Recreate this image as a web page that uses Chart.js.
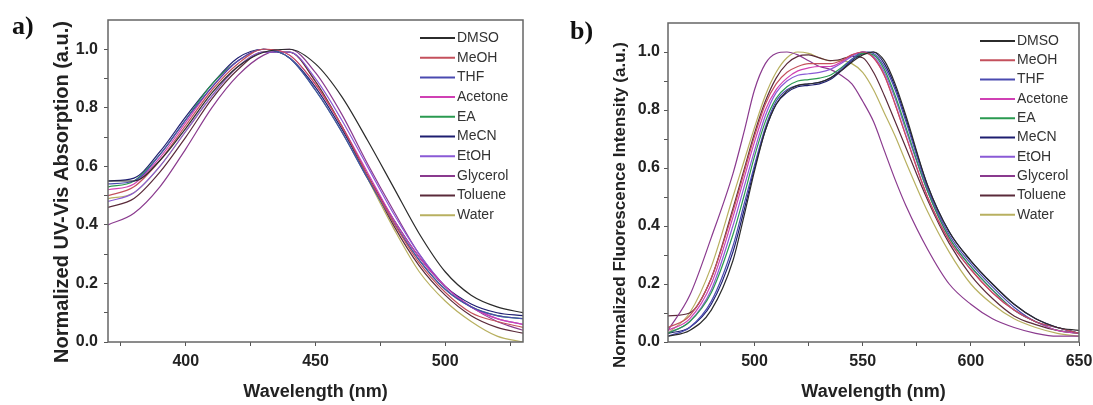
<!DOCTYPE html>
<html lang="en">

<head>
  <meta charset="UTF-8">
  <meta name="viewport" content="width=device-width, initial-scale=1.0">
  <script src="https://cdn.jsdelivr.net/npm/chart.js"></script>
  <title>Solvatochromism</title>
  <style>
    body { margin: 0; background: #fff; }
    #wrap { position: relative; width: 1093px; height: 405px; }
    canvas { position: absolute; top: 0; }
    #chartA { left: 0; }
    #chartB { left: 546px; }
  </style>
</head>

<body>

  <div id="wrap">
    <canvas id="chartA" width="546" height="405"></canvas>
    <canvas id="chartB" width="547" height="405"></canvas>
  </div>

  <script>
    // solvents, same order in both panels
    const solvents = ['DMSO', 'MeOH', 'THF', 'Acetone', 'EA', 'MeCN', 'EtOH', 'Glycerol', 'Toluene', 'Water'];
    const colors = ['#2b2b2b', '#c4505c', '#4a4ab0', '#d040b4', '#2a9a50', '#1e1e70', '#8a5ad6', '#8a3a8e', '#5a2a3a', '#b8b060'];

    // a) absorption, wavelength (nm)
    const wlAbs = [370, 380, 390, 400, 410, 420, 430, 440, 450, 460, 470, 480, 490, 500, 510, 520, 530];
    const absDMSO     = [0.55, 0.55, 0.62, 0.73, 0.85, 0.94, 0.99, 1.00, 0.95, 0.84, 0.69, 0.53, 0.37, 0.24, 0.16, 0.12, 0.10];
    const absMeOH     = [0.50, 0.53, 0.62, 0.74, 0.86, 0.95, 1.00, 0.98, 0.88, 0.74, 0.57, 0.41, 0.27, 0.17, 0.10, 0.07, 0.05];
    const absTHF      = [0.54, 0.55, 0.64, 0.76, 0.87, 0.96, 1.00, 0.97, 0.86, 0.72, 0.56, 0.41, 0.28, 0.18, 0.12, 0.09, 0.08];
    const absAcetone  = [0.52, 0.54, 0.63, 0.75, 0.87, 0.96, 1.00, 0.98, 0.88, 0.74, 0.58, 0.42, 0.29, 0.19, 0.12, 0.08, 0.06];
    const absEA       = [0.53, 0.55, 0.64, 0.76, 0.88, 0.96, 1.00, 0.97, 0.86, 0.72, 0.56, 0.41, 0.28, 0.18, 0.12, 0.09, 0.08];
    const absMeCN     = [0.55, 0.56, 0.65, 0.77, 0.88, 0.97, 1.00, 0.97, 0.87, 0.73, 0.57, 0.42, 0.29, 0.19, 0.13, 0.10, 0.09];
    const absEtOH     = [0.48, 0.51, 0.60, 0.72, 0.84, 0.94, 0.99, 0.99, 0.90, 0.76, 0.60, 0.44, 0.30, 0.19, 0.12, 0.08, 0.06];
    const absGlycerol = [0.40, 0.44, 0.53, 0.66, 0.80, 0.91, 0.98, 1.00, 0.92, 0.78, 0.61, 0.45, 0.30, 0.19, 0.12, 0.07, 0.04];
    const absToluene  = [0.46, 0.49, 0.58, 0.70, 0.83, 0.93, 0.99, 0.99, 0.89, 0.74, 0.57, 0.40, 0.26, 0.16, 0.09, 0.05, 0.03];
    const absWater    = [0.49, 0.51, 0.60, 0.72, 0.84, 0.94, 0.99, 0.99, 0.89, 0.74, 0.56, 0.39, 0.24, 0.14, 0.07, 0.02, 0.00];

    // b) fluorescence, wavelength (nm)
    const wlFl = [460, 470, 480, 490, 495, 500, 505, 510, 515, 520, 525, 530, 535, 540, 545, 550, 555, 560, 565, 570, 580, 590, 600, 610, 620, 630, 640, 650];
    const flDMSO     = [0.02, 0.04, 0.11, 0.28, 0.43, 0.59, 0.73, 0.82, 0.865, 0.885, 0.89, 0.895, 0.91, 0.935, 0.965, 0.99, 1.00, 0.97, 0.89, 0.78, 0.54, 0.38, 0.28, 0.20, 0.13, 0.08, 0.05, 0.04];
    const flMeOH     = [0.05, 0.09, 0.22, 0.45, 0.58, 0.71, 0.82, 0.89, 0.93, 0.95, 0.96, 0.96, 0.96, 0.97, 0.99, 1.00, 0.98, 0.92, 0.82, 0.71, 0.50, 0.35, 0.25, 0.17, 0.11, 0.07, 0.05, 0.03];
    const flTHF      = [0.02, 0.05, 0.14, 0.33, 0.47, 0.61, 0.74, 0.83, 0.87, 0.885, 0.89, 0.895, 0.91, 0.94, 0.975, 1.00, 0.995, 0.95, 0.87, 0.76, 0.53, 0.37, 0.27, 0.19, 0.12, 0.07, 0.05, 0.03];
    const flAcetone  = [0.04, 0.08, 0.20, 0.43, 0.56, 0.69, 0.80, 0.87, 0.91, 0.935, 0.945, 0.95, 0.95, 0.965, 0.99, 1.00, 0.98, 0.92, 0.82, 0.71, 0.50, 0.35, 0.25, 0.17, 0.11, 0.07, 0.04, 0.03];
    const flEA       = [0.03, 0.07, 0.17, 0.37, 0.50, 0.64, 0.76, 0.84, 0.88, 0.90, 0.905, 0.91, 0.92, 0.945, 0.975, 0.995, 0.99, 0.94, 0.85, 0.74, 0.52, 0.36, 0.26, 0.18, 0.11, 0.07, 0.04, 0.03];
    const flMeCN     = [0.03, 0.05, 0.13, 0.31, 0.45, 0.60, 0.73, 0.82, 0.86, 0.88, 0.885, 0.89, 0.905, 0.935, 0.97, 0.995, 1.00, 0.96, 0.88, 0.77, 0.54, 0.38, 0.28, 0.20, 0.13, 0.08, 0.05, 0.03];
    const flEtOH     = [0.03, 0.07, 0.18, 0.40, 0.53, 0.66, 0.78, 0.86, 0.90, 0.92, 0.925, 0.93, 0.94, 0.96, 0.985, 1.00, 0.985, 0.93, 0.84, 0.73, 0.52, 0.36, 0.26, 0.18, 0.11, 0.07, 0.05, 0.03];
    const flGlycerol = [0.04, 0.16, 0.36, 0.58, 0.72, 0.87, 0.96, 0.995, 1.00, 0.99, 0.97, 0.95, 0.94, 0.92, 0.89, 0.83, 0.76, 0.66, 0.56, 0.47, 0.32, 0.20, 0.13, 0.08, 0.05, 0.03, 0.02, 0.02];
    const flToluene  = [0.09, 0.10, 0.22, 0.46, 0.59, 0.72, 0.83, 0.91, 0.96, 0.985, 0.99, 0.98, 0.97, 0.975, 0.985, 0.98, 0.93, 0.85, 0.76, 0.67, 0.49, 0.34, 0.23, 0.15, 0.09, 0.06, 0.04, 0.03];
    const flWater    = [0.03, 0.10, 0.26, 0.50, 0.62, 0.74, 0.85, 0.93, 0.98, 1.00, 0.995, 0.98, 0.97, 0.97, 0.96, 0.93, 0.87, 0.79, 0.71, 0.62, 0.45, 0.31, 0.20, 0.13, 0.08, 0.05, 0.03, 0.02];

    const absSeries = [absDMSO, absMeOH, absTHF, absAcetone, absEA, absMeCN, absEtOH, absGlycerol, absToluene, absWater];
    const flSeries = [flDMSO, flMeOH, flTHF, flAcetone, flEA, flMeCN, flEtOH, flGlycerol, flToluene, flWater];

    // tick positions
    const absTicks = [375, 400, 425, 450, 475, 500, 525];
    const flTicks = [475, 500, 525, 550, 575, 600, 625, 650];
    const yTicks = [0, 0.1, 0.2, 0.3, 0.4, 0.5, 0.6, 0.7, 0.8, 0.9, 1.0];

    const sans = '"Liberation Sans", Arial, sans-serif';

    function makeSets(xs, series) {
      return solvents.map((name, i) => ({
        label: name,
        data: xs.map((x, j) => ({ x: x, y: series[i][j] })),
        borderColor: colors[i],
        backgroundColor: colors[i],
        borderWidth: 1.2,
        pointRadius: 0,
        fill: false,
        cubicInterpolationMode: 'monotone'
      }));
    }

    // box around the plot, y title, legend, panel letter
    const decor = {
      id: 'decor',
      afterDraw(chart, args, opts) {
        const ctx = chart.ctx;
        const a = chart.chartArea;
        ctx.save();
        ctx.strokeStyle = '#666';
        ctx.lineWidth = 1.5;
        ctx.strokeRect(a.left, a.top, a.right - a.left, a.bottom - a.top);

        // y title (placed by hand, it is not centred on the axis in the original)
        ctx.save();
        ctx.translate(opts.titleX, opts.titleY);
        ctx.rotate(-Math.PI / 2);
        ctx.font = 'bold ' + opts.titleSize + 'px ' + sans;
        ctx.fillStyle = '#222';
        ctx.textAlign = 'center';
        ctx.textBaseline = 'middle';
        ctx.fillText(opts.title, 0, 0);
        ctx.restore();

        ctx.font = '14px ' + sans;
        ctx.textBaseline = 'middle';
        ctx.textAlign = 'left';
        chart.data.datasets.forEach((ds, i) => {
          const y = opts.legY + i * opts.legStep;
          ctx.strokeStyle = ds.borderColor;
          ctx.lineWidth = 2;
          ctx.beginPath();
          ctx.moveTo(opts.legX, y);
          ctx.lineTo(opts.legX + 35, y);
          ctx.stroke();
          ctx.fillStyle = '#333';
          ctx.fillText(ds.label, opts.legX + 37, y);
        });

        ctx.font = 'bold 26px "Liberation Serif", "Times New Roman", serif';
        ctx.fillStyle = '#111';
        ctx.textBaseline = 'alphabetic';
        ctx.fillText(opts.letter, opts.letterX, opts.letterY);
        ctx.restore();
      }
    };

    function drawChart(canvasId, xs, series, xMin, xMax, xTicks, yTitle, o) {
      return new Chart(document.getElementById(canvasId), {
        type: 'line',
        data: { datasets: makeSets(xs, series) },
        plugins: [decor],
        options: {
          responsive: false,
          animation: false,
          devicePixelRatio: 1,
          layout: { padding: { top: o.top, right: o.right, left: 0, bottom: 0 } },
          plugins: {
            legend: { display: false },
            tooltip: { enabled: false },
            decor: {
              legX: o.legX, legY: o.legY, legStep: o.legStep,
              letter: o.letter, letterX: o.letterX, letterY: o.letterY,
              title: yTitle, titleX: o.titleX, titleY: o.titleY, titleSize: o.titleSize
            }
          },
          scales: {
            x: {
              type: 'linear',
              min: xMin,
              max: xMax,
              afterBuildTicks: (s) => { s.ticks = xTicks.map(v => ({ value: v })); },
              afterFit: (s) => { s.height = 63; s.paddingLeft = 0; s.paddingRight = 0; },
              border: { display: false },
              grid: { drawOnChartArea: false, color: '#555', tickLength: 4 },
              ticks: {
                autoSkip: false,
                maxRotation: 0,
                padding: 6,
                color: '#222',
                font: { family: sans, size: 16, weight: 'bold' },
                callback: (v) => (v % 50 === 0 ? String(v) : '')
              },
              title: {
                display: true,
                text: 'Wavelength (nm)',
                color: '#222',
                font: { family: sans, size: 18, weight: 'bold' },
                padding: { top: 0, bottom: 2 }
              }
            },
            y: {
              min: 0,
              max: 1.1,
              afterBuildTicks: (s) => { s.ticks = yTicks.map(v => ({ value: v })); },
              afterFit: (s) => { s.width = o.yWidth; s.paddingTop = 0; s.paddingBottom = 0; },
              border: { display: false },
              grid: { drawOnChartArea: false, color: '#555', tickLength: 4 },
              ticks: {
                autoSkip: false,
                padding: o.yPad,
                color: '#222',
                font: { family: sans, size: 16, weight: 'bold' },
                callback: (v) => (Math.round(v * 10) % 2 === 0 ? v.toFixed(1) : '')
              },
              title: { display: false }
            }
          }
        }
      });
    }

    drawChart('chartA', wlAbs, absSeries, 370, 530, absTicks, 'Normalized UV-Vis Absorption (a.u.)',
      { top: 20, right: 23, yWidth: 108, yPad: 6, titleX: 62, titleY: 192, titleSize: 20,
        legX: 420, legY: 38, legStep: 19.7, letter: 'a)', letterX: 12, letterY: 34 });

    drawChart('chartB', wlFl, flSeries, 460, 650, flTicks, 'Normalized Fluorescence Intensity (a.u.)',
      { top: 23, right: 14, yWidth: 122, yPad: 4, titleX: 74, titleY: 205, titleSize: 17,
        legX: 434, legY: 41, legStep: 19.3, letter: 'b)', letterX: 24, letterY: 39 });
  </script>

</body>

</html>
